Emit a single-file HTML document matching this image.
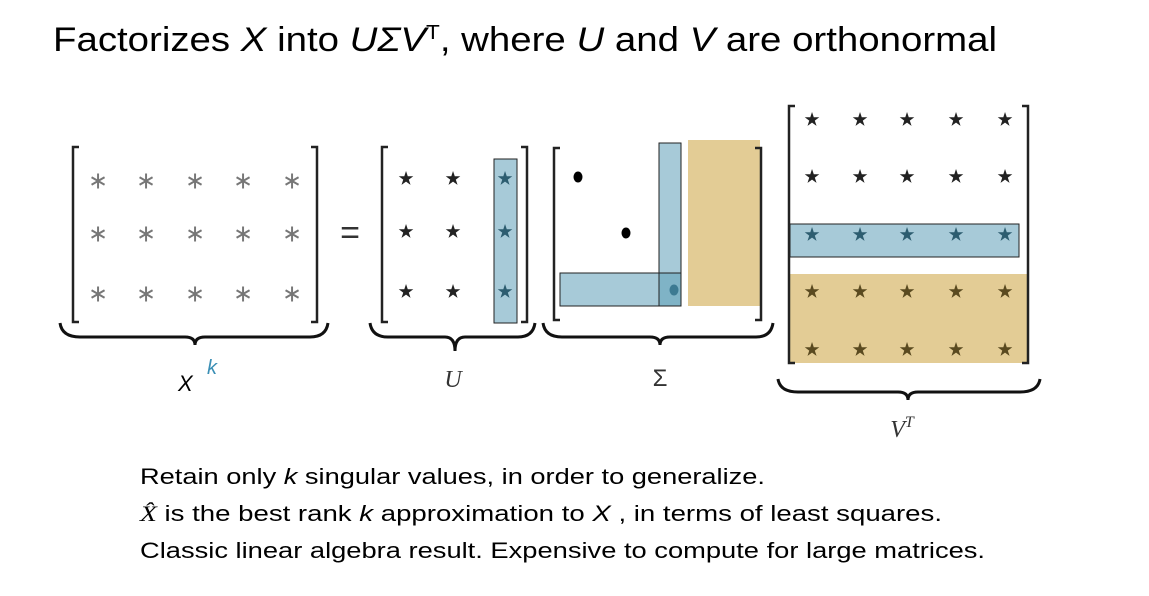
<!DOCTYPE html>
<html><head><meta charset="utf-8"><style>
html,body{margin:0;padding:0;background:#fff;width:1149px;height:596px;overflow:hidden}
svg{display:block}
text{font-family:"Liberation Sans","DejaVu Sans",sans-serif}
.serif{font-family:"Liberation Serif","DejaVu Serif",serif;font-style:italic}
</style></head><body>
<svg id="svd" width="1149" height="596" viewBox="0 0 1149 596">
<text x="53" y="51" font-size="34" textLength="944" lengthAdjust="spacingAndGlyphs">Factorizes <tspan font-style="italic">X</tspan> into <tspan font-style="italic">UΣV</tspan><tspan font-size="20" dy="-12">T</tspan><tspan dy="12">, where </tspan><tspan font-style="italic">U</tspan> and <tspan font-style="italic">V</tspan> are orthonormal</text>

<rect x="494" y="159" width="23" height="164" fill="#a7cad8" stroke="#222" stroke-width="1"/>
<rect x="688" y="140" width="72" height="166" fill="#e3cc95"/>
<rect x="659" y="143" width="22" height="163" fill="#a7cad8" stroke="#222" stroke-width="1"/>
<rect x="560" y="273" width="121" height="33" fill="#a7cad8" stroke="#222" stroke-width="1"/>
<rect x="659" y="273" width="22" height="33" fill="#7fb3c6" stroke="#222" stroke-width="1"/>
<rect x="790" y="274" width="237" height="89" fill="#e3cc95"/>
<rect x="790" y="224" width="229" height="33" fill="#a7cad8" stroke="#222" stroke-width="1"/>

<g id="marks"></g>

<g fill="none" stroke="#222" stroke-width="2.5">
<path d="M79 147 H73 V322 H79"/>
<path d="M311 147 H317 V322 H311"/>
<path d="M388 147 H382 V322 H388"/>
<path d="M521 147 H527 V322 H521"/>
<path d="M560 148 H554 V320 H560"/>
<path d="M755 148 H761 V320 H755"/>
<path d="M795 106 H789 V363 H795"/>
<path d="M1022 106 H1028 V363 H1022"/>
</g>

<g fill="none" stroke="#111" stroke-width="3">
<path d="M60 323 Q62 337 80 337 H185 Q195 337 195 345 Q195 337 205 337 H310 Q326 337 328 323"/>
<path d="M370 323 Q372 337 388 337 H445 Q455 337 455 351 Q455 337 465 337 H518 Q533 337 535 323"/>
<path d="M543 323 Q545 337 562 337 H650 Q660 337 660 345 Q660 337 670 337 H756 Q771 337 773 323"/>
<path d="M778 379 Q780 392 798 392 H898 Q908 392 908 400 Q908 392 918 392 H1020 Q1038 392 1040 379"/>
</g>

<text x="350" y="244" font-size="34" text-anchor="middle" fill="#333">=</text>

<text x="178" y="391" font-size="22" font-style="italic" fill="#000">X</text>
<text x="207" y="374" font-size="20" font-style="italic" fill="#3b8fb5">k</text>
<text x="453" y="387" font-size="24" class="serif" text-anchor="middle" fill="#333">U</text>
<text x="660" y="386" font-size="24" font-family="Liberation Serif" text-anchor="middle" fill="#333">Σ</text>
<text x="902" y="437" font-size="24" class="serif" text-anchor="middle" fill="#333">V<tspan font-size="16" dy="-10">T</tspan></text>

<text x="140" y="484" font-size="22" textLength="625" lengthAdjust="spacingAndGlyphs">Retain only <tspan font-style="italic">k</tspan> singular values, in order to generalize.</text>
<text x="140" y="521" font-size="22" textLength="802" lengthAdjust="spacingAndGlyphs"><tspan font-style="italic" font-family="Liberation Serif">X̂</tspan> is the best rank <tspan font-style="italic">k</tspan> approximation to <tspan font-style="italic">X</tspan> , in terms of least squares.</text>
<text x="140" y="558" font-size="22" textLength="845" lengthAdjust="spacingAndGlyphs">Classic linear algebra result. Expensive to compute for large matrices.</text>
</svg>
<script>
const xCols=[98,146,195,243,292];
const xRows=[180,233,293];
const uCols=[406,453,505];
const vtCols=[812,860,907,956,1005];
const vtRows=[121,178,236,293,351];
const sigmaDots=[[578,177],[626,233],[674,290]];
const g=document.getElementById('marks');
const NS='http://www.w3.org/2000/svg';
function txt(x,y,ch,size,fill,name){
  const t=document.createElementNS(NS,'text');
  t.setAttribute('x',x);t.setAttribute('y',y+size*0.35);
  t.setAttribute('font-size',size);t.setAttribute('text-anchor','middle');
  t.setAttribute('fill',fill);t.setAttribute('font-family','DejaVu Sans');
  t.textContent=ch;
  
  
  g.appendChild(t);
}
xRows.forEach(y=>xCols.forEach(x=>txt(x,y,'∗',24,'#777','x-entry')));
xRows.forEach(y=>uCols.forEach((x,i)=>txt(x,y-3,'⋆',38,i==2?'#2d5d70':'#222','u-entry')));
vtRows.forEach((y,r)=>vtCols.forEach(x=>txt(x,y-3,'⋆',38,r==2?'#2d5d70':(r>2?'#5a4a20':'#222'),'vt-entry')));
sigmaDots.forEach((d,i)=>{
  const c=document.createElementNS(NS,'ellipse');
  c.setAttribute('cx',d[0]);c.setAttribute('cy',d[1]);
  c.setAttribute('rx',4.5);c.setAttribute('ry',5.5);
  c.setAttribute('fill',i==2?'#3c7a92':'#000');
  
  
  g.appendChild(c);
});
</script>
</body></html>
